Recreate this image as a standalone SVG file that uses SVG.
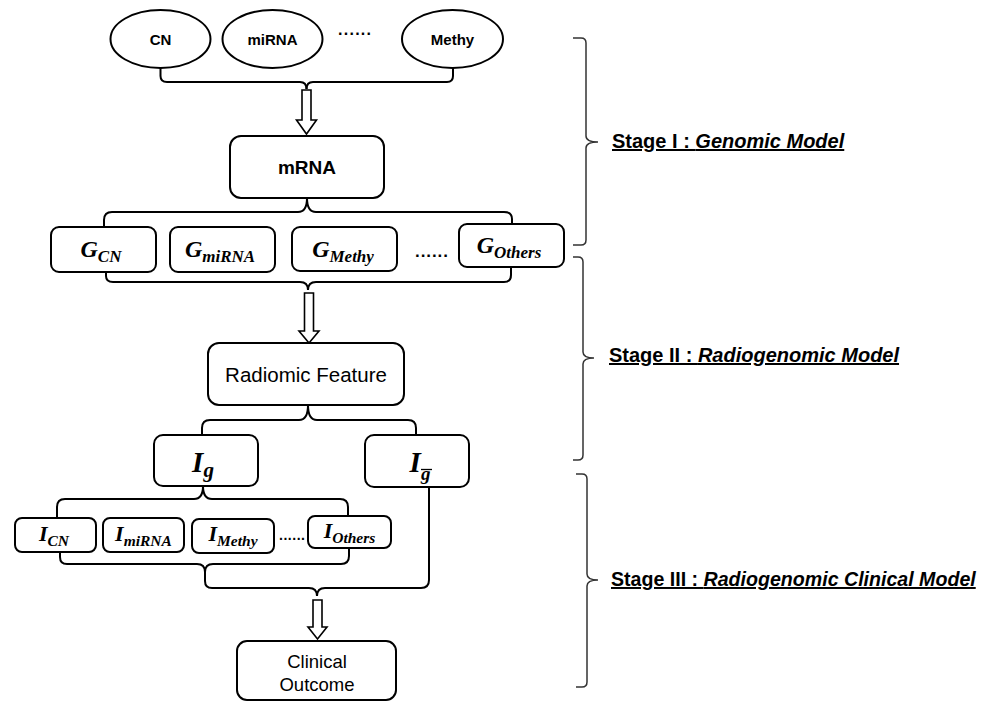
<svg xmlns="http://www.w3.org/2000/svg" width="987" height="702" viewBox="0 0 987 702">
<style>
.box{fill:#fff;stroke:#000;stroke-width:2}
.ln{fill:none;stroke:#000;stroke-width:2}
.arr{fill:#fff;stroke:#000;stroke-width:1.6;stroke-linejoin:miter}
.br{fill:none;stroke:#333;stroke-width:1.5}
.lb{font-family:"Liberation Sans",Arial,sans-serif;font-weight:bold;fill:#000;text-anchor:middle}
.rg{font-family:"Liberation Sans",Arial,sans-serif;fill:#000;text-anchor:middle}
.m{font-family:"Liberation Serif","Times New Roman",serif;font-weight:bold;font-style:italic;fill:#000;text-anchor:middle}
.st{font-family:"Liberation Sans",Arial,sans-serif;font-weight:bold;fill:#000;text-decoration:underline}
.it{font-style:italic}
.dots{font-family:"Liberation Sans",Arial,sans-serif;font-weight:bold;fill:#000}
</style>
<rect width="987" height="702" fill="#fff"/>

<g id="connectors">
  <path class="ln" d="M160.5,68 V76 Q160.5,82 167,82 H300 Q306.5,82 306.5,89"/>
  <path class="ln" d="M453,68 V76 Q453,82 447,82 H313 Q306.5,82 306.5,89"/>
  <polygon class="arr" points="302,90 311,90 311,120 316.5,120 306.5,134 296.5,120 302,120"/>

  <path class="ln" d="M307,198 Q307,212 298,212 H112 Q104,212 104,220 V227"/>
  <path class="ln" d="M307,198 Q307,212 316,212 H504 Q512,212 512,219 V224"/>

  <path class="ln" d="M106,272 V276 Q106,282 113,282 H300 Q308,282 308,290"/>
  <path class="ln" d="M511,267 V275 Q511,282 504,282 H316 Q308,282 308,290"/>
  <polygon class="arr" points="304.5,293 313.5,293 313.5,331 319,331 309,343 299,331 304.5,331"/>

  <path class="ln" d="M308,405 Q308,420 299,420 H210 Q202,420 202,428 V435"/>
  <path class="ln" d="M308,405 Q308,420 317,420 H408 Q416,420 416,428 V435"/>

  <path class="ln" d="M203,486 Q203,499 194,499 H65 Q57,499 57,507 V518"/>
  <path class="ln" d="M203,486 Q203,499 212,499 H340 Q348,499 348,507 V516"/>

  <path class="ln" d="M60,552 V557 Q60,564 67,564 H197 Q205,564 205,572"/>
  <path class="ln" d="M349,548 V556 Q349,564 341,564 H213 Q205,564 205,572"/>
  <path class="ln" d="M205,572 V581 Q205,588 212,588 H309 Q317,588 317,596"/>
  <path class="ln" d="M429,487 V580 Q429,588 421,588 H325 Q317,588 317,596"/>
  <polygon class="arr" points="313,600 322,600 322,627 327,627 317.5,639 308,627 313,627"/>

  <path class="br" d="M573,38 H581 Q586,38 586,43 V136 Q586,142 598,142 Q586,142 586,148 V240 Q586,245 581,245 H573"/>
  <path class="br" d="M573,257 H578 Q583,257 583,262 V352 Q583,358 594,358 Q583,358 583,364 V455 Q583,460 578,460 H573"/>
  <path class="br" d="M576,474 H582 Q587,474 587,479 V574 Q587,580 598,580 Q587,580 587,586 V682 Q587,687 582,687 H576"/>
</g>

<g id="node-cn"><ellipse class="box" cx="160.5" cy="39" rx="50" ry="29"/><text class="lb" x="160.5" y="44.5" font-size="15">CN</text></g>
<g id="node-mirna"><ellipse class="box" cx="272.5" cy="39" rx="50" ry="29"/><text class="lb" x="272.5" y="44.5" font-size="15">miRNA</text></g>
<g id="dots-top"><text class="dots" x="338" y="35" font-size="16" textLength="33" lengthAdjust="spacing">......</text></g>
<g id="node-methy"><ellipse class="box" cx="452.5" cy="39" rx="50.5" ry="29"/><text class="lb" x="452.5" y="44.5" font-size="15">Methy</text></g>

<g id="node-mrna"><rect class="box" x="230" y="136" width="154" height="62" rx="11"/><text class="lb" x="307" y="174" font-size="19">mRNA</text></g>

<g id="node-gcn"><rect class="box" x="51" y="227" width="105" height="45" rx="8"/><text class="m" x="101" y="257" font-size="24">G<tspan font-size="17" dy="5">CN</tspan></text></g>
<g id="node-gmirna"><rect class="box" x="170" y="227" width="105" height="45" rx="8"/><text class="m" x="220" y="257" font-size="24">G<tspan font-size="17" dy="5">miRNA</tspan></text></g>
<g id="node-gmethy"><rect class="box" x="292" y="227" width="105" height="44" rx="8"/><text class="m" x="343" y="257" font-size="24">G<tspan font-size="17" dy="5">Methy</tspan></text></g>
<g id="dots-g"><text class="dots" x="415" y="257" font-size="17" textLength="33" lengthAdjust="spacing">......</text></g>
<g id="node-gothers"><rect class="box" x="459" y="224" width="105" height="43" rx="8"/><text class="m" x="509" y="253" font-size="24">G<tspan font-size="17" dy="5">Others</tspan></text></g>

<g id="node-radiomic"><rect class="box" x="208" y="343" width="196" height="62" rx="11"/><text class="rg" x="306" y="382" font-size="20.5">Radiomic Feature</text></g>

<g id="node-ig"><rect class="box" x="154" y="435" width="104" height="51" rx="9"/><text class="m" x="203" y="472" font-size="29">I<tspan font-size="21" dy="5">g</tspan></text></g>
<g id="node-igbar"><rect class="box" x="365" y="435" width="104" height="52" rx="9"/><text class="m" x="420" y="472" font-size="29">I<tspan font-size="19" dy="8">g</tspan></text><line x1="421" y1="469.5" x2="432" y2="469.5" stroke="#000" stroke-width="1.3"/></g>

<g id="node-icn"><rect class="box" x="15" y="518" width="81" height="34" rx="7"/><text class="m" x="54" y="541" font-size="22">I<tspan font-size="15.5" dy="5">CN</tspan></text></g>
<g id="node-imirna"><rect class="box" x="103" y="518" width="81" height="34" rx="7"/><text class="m" x="143.5" y="541" font-size="22">I<tspan font-size="15.5" dy="5">miRNA</tspan></text></g>
<g id="node-imethy"><rect class="box" x="192" y="519" width="82" height="34" rx="7"/><text class="m" x="233" y="541" font-size="22">I<tspan font-size="15.5" dy="5">Methy</tspan></text></g>
<g id="dots-i"><text class="dots" x="279" y="540" font-size="14" textLength="26" lengthAdjust="spacing">......</text></g>
<g id="node-iothers"><rect class="box" x="308" y="516" width="83" height="32" rx="7"/><text class="m" x="349.5" y="538" font-size="22">I<tspan font-size="15.5" dy="5">Others</tspan></text></g>

<g id="node-clinical"><rect class="box" x="237" y="641" width="159" height="59" rx="10"/><text class="rg" x="317" y="668" font-size="18.5">Clinical</text><text class="rg" x="317" y="691" font-size="18.5">Outcome</text></g>

<g id="stage1"><text class="st" x="612" y="148" font-size="20">Stage I : <tspan class="it">Genomic Model</tspan></text></g>
<g id="stage2"><text class="st" x="609" y="362" font-size="20">Stage II : <tspan class="it">Radiogenomic Model</tspan></text></g>
<g id="stage3"><text class="st" x="611" y="586" font-size="19.6">Stage III : <tspan class="it">Radiogenomic Clinical Model</tspan></text></g>
</svg>
